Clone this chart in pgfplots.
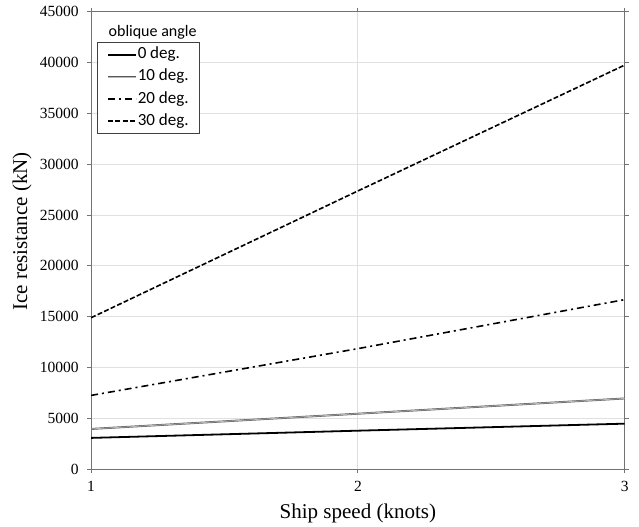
\documentclass[border=0pt]{standalone}
\usepackage{pgfplots}
\pgfplotsset{compat=1.18}
\usepackage{fontspec}
\setmainfont{Liberation Serif}
\newfontfamily\calib{Carlito}
\begin{document}
\begin{tikzpicture}
\begin{axis}[
  scale only axis,
  width=533pt, height=457pt,
  xmin=1, xmax=3, ymin=0, ymax=45000,
  xtick={1,2,3}, ytick={0,5000,...,45000},
  scaled y ticks=false,
  /pgf/number format/assume math mode=true,
  /pgf/number format/fixed,
  /pgf/number format/1000 sep={},
  ticklabel style={font=\fontsize{15.5}{18}\selectfont},
  xticklabel style={yshift=-4pt},
  yticklabel style={xshift=-5pt},
  grid=major,
  major grid style={draw=black!12, line width=1pt},
  axis line style={draw=black!55, line width=1.1pt},
  tick style={draw=black!55, line width=0.9pt},
  tick align=outside,
  major tick length=4pt,
  legend style={at={(rel axis cs:0,1)}, anchor=north west, xshift=6pt, yshift=-30.5pt,
    draw=black!75, font=\calib\fontsize{17}{19}\selectfont,
    inner xsep=10pt, inner ysep=3pt, row sep=3pt,
    nodes={inner xsep=0.5pt, inner ysep=1pt, text height=12.5pt, text depth=4.5pt},
    cells={anchor=west}},
  legend image code/.code={\draw[#1] (0pt,0pt) -- (28pt,0pt);},
  clip=false,
]
\addplot[black, line width=1.8pt] coordinates {(1,3080) (2,3790) (3,4480)};
\addlegendentry{0 deg.}
\addplot[draw=black!65, line width=0.55pt, double=black!28, double distance=0.8pt] coordinates {(1,3960) (2,5460) (3,6960)};
\addlegendentry{10 deg.}
\addplot[black, line width=1.6pt, dash pattern=on 7pt off 4pt on 2pt off 4pt] coordinates {(1,7260) (2,11860) (3,16680)};
\addlegendentry{20 deg.}
\addplot[black, line width=1.6pt, dash pattern=on 5pt off 2.2pt] coordinates {(1,14900) (2,27370) (3,39750)};
\addlegendentry{30 deg.}
\node[anchor=west, font=\calib\fontsize{16}{18}\selectfont] at ([xshift=14pt,yshift=-20.5pt]rel axis cs:0,1) {oblique angle};
\node[font=\fontsize{21}{24}\selectfont] at ([yshift=-44pt]rel axis cs:0.5,0) {Ship speed (knots)};
\node[rotate=90, font=\fontsize{21}{24}\selectfont] at ([xshift=-69pt,yshift=9pt]rel axis cs:0,0.5) {Ice resistance (kN)};
\path ([xshift=-91pt,yshift=-57.3pt]rel axis cs:0,0) rectangle ([xshift=14.3pt,yshift=11.7pt]rel axis cs:1,1);
\end{axis}
\end{tikzpicture}
\end{document}
